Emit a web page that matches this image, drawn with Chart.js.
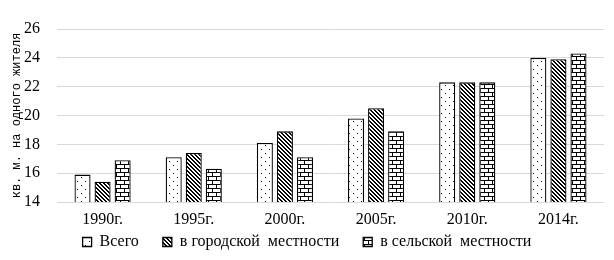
<!DOCTYPE html>
<html>
<head>
<meta charset="utf-8">
<script src="https://cdn.jsdelivr.net/npm/chart.js@4"></script>
<style>
  html, body { margin: 0; padding: 0; background: #fff; }
  #wrap { width: 614px; height: 260px; }
</style>
</head>
<body>
<div id="wrap"><canvas id="c" width="614" height="260"></canvas></div>
<script>
const years = ["1990г.", "1995г.", "2000г.", "2005г.", "2010г.", "2014г."];
const total = [15.9, 17.1, 18.1, 19.8, 22.3, 24.0];
const urban = [15.4, 17.4, 18.9, 20.5, 22.3, 23.9];
const rural = [16.9, 16.3, 17.1, 18.9, 22.3, 24.3];
const yTicks = [14, 16, 18, 20, 22, 24, 26];

// small tile patterns, like the old Excel fills
function tile(w, h, draw) {
  const t = document.createElement("canvas");
  t.width = w; t.height = h;
  const g = t.getContext("2d");
  g.fillStyle = "#fff";
  g.fillRect(0, 0, w, h);
  g.fillStyle = "#000";
  draw(g);
  return document.getElementById("c").getContext("2d").createPattern(t, "repeat");
}

const dots = tile(8, 8, (g) => {
  g.fillRect(1, 1, 1, 1);
  g.fillRect(5, 5, 1, 1);
});
const diag = tile(4, 4, (g) => {
  for (let x = 0; x < 4; x++) {
    for (let y = 0; y < 4; y++) {
      const d = (x - y + 8) % 4;
      if (d === 0 || d === 1) g.fillRect(x, y, 1, 1);
    }
  }
});
const brick = tile(8, 8, (g) => {
  g.fillRect(0, 0, 8, 1);
  g.fillRect(0, 4, 8, 1);
  g.fillRect(0, 0, 1, 4);
  g.fillRect(4, 4, 1, 4);
});

const serif = "'Liberation Serif', 'Times New Roman', serif";

// x axis box is kept thin so the legend sits close; let its labels draw past it
const unclipX = {
  id: "unclipX",
  afterLayout(chart) {
    chart.scales.x.bottom += 24;
  },
};

new Chart(document.getElementById("c"), {
  type: "bar",
  data: {
    labels: years,
    datasets: [
      { label: "Всего", data: total, backgroundColor: dots },
      { label: "в городской  местности", data: urban, backgroundColor: diag },
      { label: "в сельской  местности", data: rural, backgroundColor: brick },
    ].map((d) => ({
      ...d,
      borderColor: "#000",
      borderWidth: 1.3,
      borderSkipped: "bottom",
      barPercentage: 0.8,
      categoryPercentage: 0.66,
    })),
  },
  plugins: [unclipX],
  options: {
    responsive: false,
    animation: false,
    layout: { padding: { left: 10, right: 10, top: 29, bottom: 0 } },
    scales: {
      x: {
        grid: { display: false },
        border: { display: false },
        ticks: { color: "#000", font: { family: serif, size: 16 }, padding: 0 },
        afterFit: (s) => { s.height = 8; },
      },
      y: {
        min: 14,
        max: 26,
        afterBuildTicks: (s) => { s.ticks = yTicks.map((v) => ({ value: v })); },
        afterFit: (s) => { s.width = 47; },
        grid: { color: "#d9d9d9", lineWidth: 1, drawTicks: false },
        border: { display: false },
        ticks: { color: "#000", font: { family: serif, size: 16 }, padding: 17 },
        title: {
          display: true,
          text: "кв. м. на одного жителя",
          color: "#000",
          font: { family: "'Liberation Mono', 'Courier New', monospace", size: 12 },
          padding: 0,
        },
      },
    },
    plugins: {
      legend: {
        position: "bottom",
        maxHeight: 54,
        labels: {
          color: "#000",
          font: { family: serif, size: 16 },
          boxWidth: 9,
          boxHeight: 9,
          padding: 24,
        },
      },
      tooltip: { enabled: false },
    },
  },
});
</script>
</body>
</html>
